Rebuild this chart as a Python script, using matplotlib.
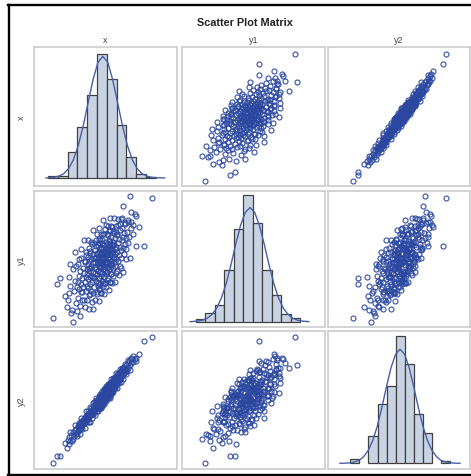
import matplotlib.pyplot as plt
from matplotlib.lines import Line2D

plt.rcParams["font.family"] = ["Liberation Sans", "DejaVu Sans"]

# observations (same index in every list)
x = [-2.24, -2.02, -1.89, -1.62, -1.55, -1.48, -1.45, -1.41, -1.36, -1.30, -1.24, -1.20, -1.17, -1.12, -1.08, -1.05, -1.02,
     -0.98, -0.96, -0.95, -0.93, -0.90, -0.88, -0.85, -0.83, -0.80, -0.78, -0.75, -0.73, -0.70, -0.68, -0.65, -0.63,
     -0.60, -0.58, -0.56, -0.54, -0.52, -0.51,
     -0.49, -0.48, -0.47, -0.46, -0.45, -0.43, -0.42, -0.40, -0.39, -0.37, -0.36, -0.34, -0.33, -0.31, -0.30, -0.28,
     -0.27, -0.25, -0.24, -0.22, -0.21, -0.19, -0.18, -0.17, -0.15, -0.14, -0.12, -0.11, -0.10, -0.08, -0.07, -0.05,
     -0.04, -0.03, -0.02, -0.01,
     0.01, 0.02, 0.03, 0.04, 0.05, 0.06, 0.07, 0.08, 0.09, 0.10, 0.11, 0.12, 0.13, 0.14, 0.15, 0.16, 0.17, 0.18, 0.19,
     0.20, 0.21, 0.22, 0.23, 0.24, 0.25, 0.26, 0.27, 0.28, 0.29, 0.30, 0.31, 0.32, 0.33, 0.34, 0.35, 0.36, 0.37, 0.38,
     0.39, 0.40, 0.41, 0.42, 0.43, 0.44, 0.45, 0.46, 0.47, 0.48, 0.49, 0.03, 0.13, 0.22, 0.33, 0.44, 0.08,
     0.51, 0.52, 0.53, 0.54, 0.55, 0.56, 0.57, 0.58, 0.59, 0.60, 0.61, 0.62, 0.63, 0.64, 0.65, 0.66, 0.67, 0.68, 0.69,
     0.70, 0.71, 0.72, 0.73, 0.74, 0.75, 0.76, 0.77, 0.78, 0.79, 0.80, 0.82, 0.83, 0.84, 0.86, 0.87, 0.88, 0.90, 0.91,
     0.93, 0.94, 0.95, 0.97, 0.98, 0.99,
     1.01, 1.03, 1.05, 1.07, 1.09, 1.11, 1.13, 1.15, 1.17, 1.19, 1.21, 1.23, 1.25, 1.27, 1.29, 1.31, 1.33, 1.35, 1.37,
     1.39, 1.42, 1.44, 1.46, 1.48,
     1.52, 1.56, 1.60, 1.64, 1.68, 1.72, 1.75, 1.75, 1.84, 1.92, 2.01, 2.15, 2.41, 2.81,
     -1.35, -1.25, -1.10, -1.00, -0.92, -0.86, -0.80, -0.74, -0.68, -0.62, -0.57, -0.52, -0.47, -0.42, -0.38, -0.34,
     -0.30, -0.26, -0.22, -0.18, -0.14, -0.10, -0.06, -0.02, 0.02, 0.05, 0.08, 0.11, 0.14, 0.17, 0.20, 0.23, 0.26,
     0.29, 0.32, 0.35, 0.38, 0.41, 0.44, 0.47, 0.50, 0.53, 0.56, 0.59, 0.62, 0.65, 0.68, 0.71, 0.74, 0.77, 0.80,
     0.84, 0.88, 0.92, 0.96, 1.00, 1.05, 1.10, 1.16, 1.22, 1.28, 1.34, 1.42, 1.50, 1.60, 1.70, 1.85, 1.98,
     -0.40, -0.20, 0.00, 0.10, 0.20, 0.30, 0.40, 0.50, 0.60, 0.70, 0.80, 0.90, 1.00, -0.60, -0.80, 0.15, 0.35, 0.55,
     0.25, 0.45, -0.10, 0.65]
y1 = [-2.02, -0.70, -0.44, -1.14, -1.60, -1.30, -0.40, -1.05, -0.75, -1.84, -2.19, -0.10, -0.95, -0.55, -1.45, 0.05, -0.80,
      -0.60, -1.25, 0.10, -0.90, -0.35, -1.55, -0.15, -0.70, 0.35, -1.00, -0.45, -0.05, -0.80, -1.30, -0.25, 0.20,
      -0.60, -0.95, 0.45, -0.40, -0.10, -0.75,
      -0.30, 0.40, -0.85, 0.10, -0.50, 0.75, -0.15, -1.10, 0.25, -0.40, 0.55, -0.70, -0.05, 0.30, -0.95, 0.05,
      -0.35, 0.90, -0.60, 0.15, -0.20, 0.50, -1.67, -0.45, 0.35, -0.80, 0.00, 0.65, -0.25, 0.20, -0.55, 1.05,
      -0.10, 0.40, -1.00, 0.10,
      -0.30, 0.55, -0.65, 0.20, 0.85, -0.15, 0.35, -0.90, 0.05, 0.60, -0.45, 1.10, 0.25, -0.20, 0.45, -0.70, 0.10, 0.75, -0.35,
      0.30, -1.05, 0.50, 0.00, 0.95, -0.25, 0.40, -0.55, 0.15, 0.70, -0.10, 1.30, 0.25, -0.80, 0.55, 0.05, 0.85, -0.40, 0.35,
      1.50, -0.15, 0.60, 0.20, -0.65, 1.00, 0.45, -0.30, 0.75, 0.10, 0.50, 0.30, -0.05, 0.70, 0.40, 0.15, 0.95,
      0.20, 0.90, -0.20, 0.55, 1.25, 0.05, 0.70, -0.45, 0.40, 1.05, 0.15, 0.80, -0.10, 0.50, 1.45, 0.30, -0.60, 0.95, 0.45,
      0.00, 0.65, 1.20, 0.25, -0.30, 0.85, 0.55, 1.60, 0.10, 0.75, 0.35, 1.00, -0.05, 0.60, 1.35, 0.40, 0.90, 0.20, 0.70,
      1.15, 0.50, -0.25, 0.80, 1.40, 0.30,
      0.60, 1.30, 0.25, 0.95, 1.65, 0.45, 1.10, 0.05, 0.80, 1.45, 0.65, 1.90, 0.35, 1.05, 1.55, 0.75, 1.20, 2.42, 0.50,
      1.35, 0.90, 1.70, 1.15, 0.70,
      1.40, 0.95, 1.85, 1.20, 2.81, 1.55, 2.19, 1.76, 1.30, 2.10, 2.02, 1.60, 0.84, 2.72,
      0.11, -1.73, 0.58, -1.75, 0.31, -1.95, 0.69, -1.32, 1.07, -1.58, 0.60, -1.31, 1.07, -1.69, 0.63, -1.09,
      0.99, -1.38, 1.45, -1.03, 0.95, -1.32, 0.81, -1.06, 1.31, -0.77, 1.56, -1.37, 1.05, -0.88, 1.29, -1.04, 1.08,
      -0.65, 1.87, -1.06, 1.32, -0.66, 1.66, -0.82, 1.30, -0.53, 1.64, -0.94, 1.43, -0.60, 1.93, -0.30, 1.62, -0.66, 1.41,
      -0.36, 1.92, -0.61, 1.62, -0.15, 1.89, -0.33, 1.71, -0.05, 1.95, -0.21, 1.74, 0.30, 1.77, 0.34, 1.65, 0.84,
      -0.03, -0.39, 0.50, -0.43, 0.79, -0.09, 0.63, -0.20, 1.02, 0.09, 0.86, 0.03, 1.25, 0.23, -1.01, 0.21, 0.45, 0.34,
      0.53, 0.17, 0.33, 0.71]
y2 = [-2.35, -2.07, -2.05, -1.55, -1.72, -1.40, -1.58, -1.30, -1.45, -1.22, -1.35, -1.10, -1.25, -1.00, -1.15, -0.98, -1.12,
      -0.85, -1.05, -0.90, -0.80, -1.02, -0.95, -0.75, -0.92, -0.85, -0.70, -0.82, -0.65, -0.78, -0.60, -0.72, -0.55,
      -0.68, -0.50, -0.62, -0.45, -0.58, -0.48,
      -0.40, -0.55, -0.42, -0.38, -0.52, -0.35, -0.48, -0.30, -0.45, -0.33, -0.42, -0.28, -0.40, -0.22, -0.36, -0.25,
      -0.33, -0.20, -0.30, -0.15, -0.28, -0.12, -0.25, -0.10, -0.20, -0.08, -0.18, -0.05, -0.15, 0.00, -0.12, 0.02,
      -0.10, 0.05, -0.08, 0.04,
      -0.14, 0.12, -0.02, 0.24, -0.05, 0.08, 0.22, -0.12, 0.14, 0.08, 0.23, 0.00, 0.38, 0.06, 0.15, 0.34, -0.01, 0.26, 0.16,
      0.34, -0.04, 0.28, 0.13, 0.46, 0.28, 0.12, 0.37, 0.22, 0.45, 0.10, 0.35, 0.44, 0.24, 0.54, 0.20, 0.43, 0.35, 0.56,
      0.27, 0.41, 0.65, 0.35, 0.52, 0.26, 0.58, 0.42, 0.62, 0.26, 0.54, -0.10, 0.00, 0.10, 0.25, 0.35, 0.20,
      0.39, 0.70, 0.49, 0.63, 0.35, 0.70, 0.57, 0.43, 0.81, 0.53, 0.66, 0.44, 0.74, 0.89, 0.55, 0.69, 0.45, 0.84, 0.64,
      0.78, 0.57, 0.92, 0.72, 0.57, 0.87, 0.82, 0.53, 0.93, 0.71, 0.82, 1.01, 0.72, 0.91, 0.70, 1.10, 0.85, 1.00, 0.72,
      0.97, 1.08, 0.86, 1.14, 0.85, 1.00,
      0.88, 1.20, 1.02, 0.95, 1.25, 1.00, 1.30, 1.05, 1.32, 1.12, 1.38, 1.18, 1.10, 1.45, 1.20, 1.42, 1.25, 1.50, 1.30,
      1.55, 1.35, 1.40, 1.62, 1.45,
      1.38, 1.70, 1.50, 1.78, 1.60, 1.85, 1.68, 1.90, 1.75, 1.88, 1.92, 2.05, 2.58, 2.76,
      -1.10, -1.45, -0.80, -1.25, -0.72, -1.16, -0.52, -0.96, -0.53, -0.92, -0.25, -0.70, -0.25, -0.70, -0.08, -0.69,
      -0.12, -0.51, 0.08, -0.38, 0.11, -0.42, 0.29, -0.24, 0.22, -0.25, 0.36, -0.04, 0.46, -0.11, 0.42, -0.12, 0.56,
      0.04, 0.50, 0.05, 0.63, 0.19, 0.77, 0.15, 0.70, 0.35, 0.86, 0.31, 0.87, 0.30, 0.90, 0.46, 1.06, 0.57, 1.08,
      0.54, 1.08, 0.67, 1.31, 0.70, 1.30, 0.88, 1.46, 0.94, 1.48, 1.04, 1.67, 1.25, 1.80, 1.40, 2.00, 1.78,
      -0.30, -0.35, 0.12, 0.00, 0.35, 0.12, 0.60, 0.38, 0.70, 0.50, 0.98, 0.75, 1.12, -0.70, -0.65, -0.07, 0.60, 0.30,
      -0.03, 0.73, 0.15, 0.35]

bin_edges = [-2.5, -2.0, -1.5, -1.0, -0.5, 0.0, 0.5, 1.0, 1.5, 2.0, 2.5, 3.0]
x_pct = [0.35, 0.5, 5.6, 10.9, 17.8, 26.6, 21.3, 11.4, 4.5, 0.9, 0.2]
y1_pct = [0.5, 1.8, 3.4, 10.7, 19.0, 26.0, 20.3, 10.7, 5.5, 1.6, 0.8]
y2_pct = [0.9, 0.0, 5.8, 12.5, 16.2, 26.6, 20.7, 10.4, 6.4, 0.0, 0.5]

# density curves
x_curve_at = [-2.6, -2.45, -2.2, -1.95, -1.7, -1.45, -1.2, -0.95, -0.7, -0.45, -0.2, 0.05, 0.3, 0.55, 0.8,
              1.05, 1.3, 1.55, 1.8, 2.05, 2.3, 2.55, 2.8, 3.05, 3.45]
x_curve = [0, 0.05, 0.13, 0.4, 0.9, 2.0, 3.9, 7.0, 11.2, 16.2, 21.1, 24.8, 26.1, 24.8, 21.1,
           16.2, 11.2, 7.0, 3.9, 2.0, 0.9, 0.4, 0.13, 0.05, 0]
y1_curve_at = [-2.8, -2.65, -2.4, -2.15, -1.9, -1.65, -1.4, -1.15, -0.9, -0.65, -0.4, -0.15, 0.1, 0.35, 0.6,
               0.85, 1.1, 1.35, 1.6, 1.85, 2.1, 2.35, 2.6, 2.85, 3.1, 3.35, 3.45]
y1_curve = [0, 0.05, 0.12, 0.3, 0.7, 1.5, 2.8, 4.9, 7.9, 11.7, 15.9, 19.7, 22.4, 23.4, 22.4,
            19.7, 15.9, 11.7, 7.9, 4.9, 2.8, 1.5, 0.7, 0.3, 0.12, 0.05, 0]
y2_curve_at = [-3.06, -2.76, -2.51, -2.26, -2.01, -1.76, -1.51, -1.26, -1.01, -0.76, -0.51, -0.26, -0.01, 0.24, 0.49,
               0.74, 0.99, 1.24, 1.49, 1.74, 1.99, 2.24, 2.49, 2.74, 2.99, 3.24, 3.53]
y2_curve = [0, 0.04, 0.1, 0.3, 0.6, 1.4, 2.7, 4.8, 7.8, 11.7, 16.0, 20.0, 22.8, 23.9, 22.8,
            20.0, 16.0, 11.7, 7.8, 4.8, 2.7, 1.4, 0.6, 0.3, 0.1, 0.04, 0]

names = ["x", "y1", "y2"]
data = [x, y1, y2]
pcts = [x_pct, y1_pct, y2_pct]
curves = [(x_curve_at, x_curve), (y1_curve_at, y1_curve), (y2_curve_at, y2_curve)]

# layout in pixels
W, H = 471, 477
col_left = [34, 182, 328]
col_w = [143, 143, 142]
row_top = [48, 192, 332]
row_h = [139, 136, 138]
col_lims = [(-3.21, 4.08), (-3.23, 4.30), (-3.72, 4.08)]
row_lims = [(-2.44, 3.09), (-2.39, 3.01), (-2.58, 2.99)]
diag_lims = [(-1.72, 28.1), (-1.09, 26.8), (-1.19, 27.7)]

marker_col = "#2b47a0"
fig = plt.figure(figsize=(W / 100, H / 100), dpi=100)

for r in range(3):
    for c in range(3):
        ax = fig.add_axes([col_left[c] / W, 1 - (row_top[r] + row_h[r]) / H, col_w[c] / W, row_h[r] / H])
        if r == c:
            lefts = bin_edges[:-1]
            widths = [b - a for a, b in zip(bin_edges[:-1], bin_edges[1:])]
            keep = [i for i, p in enumerate(pcts[r]) if p > 0]
            ax.bar([lefts[i] for i in keep], [pcts[r][i] for i in keep], width=[widths[i] for i in keep],
                   align="edge", color="#c8d2e3", edgecolor="#404040", linewidth=0.9)
            ax.plot(curves[r][0], curves[r][1], color="#4560a8", linewidth=1.0)
            ax.set_ylim(*diag_lims[r])
        else:
            ax.plot(data[c], data[r], linestyle="none", marker="o", markersize=3.6,
                    markerfacecolor="none", markeredgecolor=marker_col, markeredgewidth=0.85, alpha=0.9)
            ax.set_ylim(*row_lims[r])
        ax.set_xlim(*col_lims[c])
        ax.set_xticks([])
        ax.set_yticks([])
        for s in ax.spines.values():
            s.set_color("#cccccc")
            s.set_linewidth(1.2)

# titles and variable labels
fig.text(245 / W, 1 - 23 / H, "Scatter Plot Matrix", ha="center", va="center",
         fontsize=7.8, fontweight="bold", color="#222222")
for i, name in enumerate(names):
    fig.text((col_left[i] + col_w[i] / 2) / W, 1 - 40.5 / H, name, ha="center", va="center",
             fontsize=6.5, color="#444444")
    fig.text(21 / W, 1 - (row_top[i] + row_h[i] / 2) / H, name, ha="center", va="center",
             rotation=90, fontsize=6.5, color="#444444")

# black frame (left, top, bottom)
lw = 1.7
fig.add_artist(Line2D([8.5 / W, 8.5 / W], [1 - 5.5 / H, 1 - 475.5 / H], color="black", linewidth=lw))
fig.add_artist(Line2D([7.5 / W, 1.0], [1 - 5.5 / H, 1 - 5.5 / H], color="black", linewidth=lw))
fig.add_artist(Line2D([7.5 / W, 1.0], [1 - 475.5 / H, 1 - 475.5 / H], color="black", linewidth=lw))

fig.savefig("out.png", dpi=100)
